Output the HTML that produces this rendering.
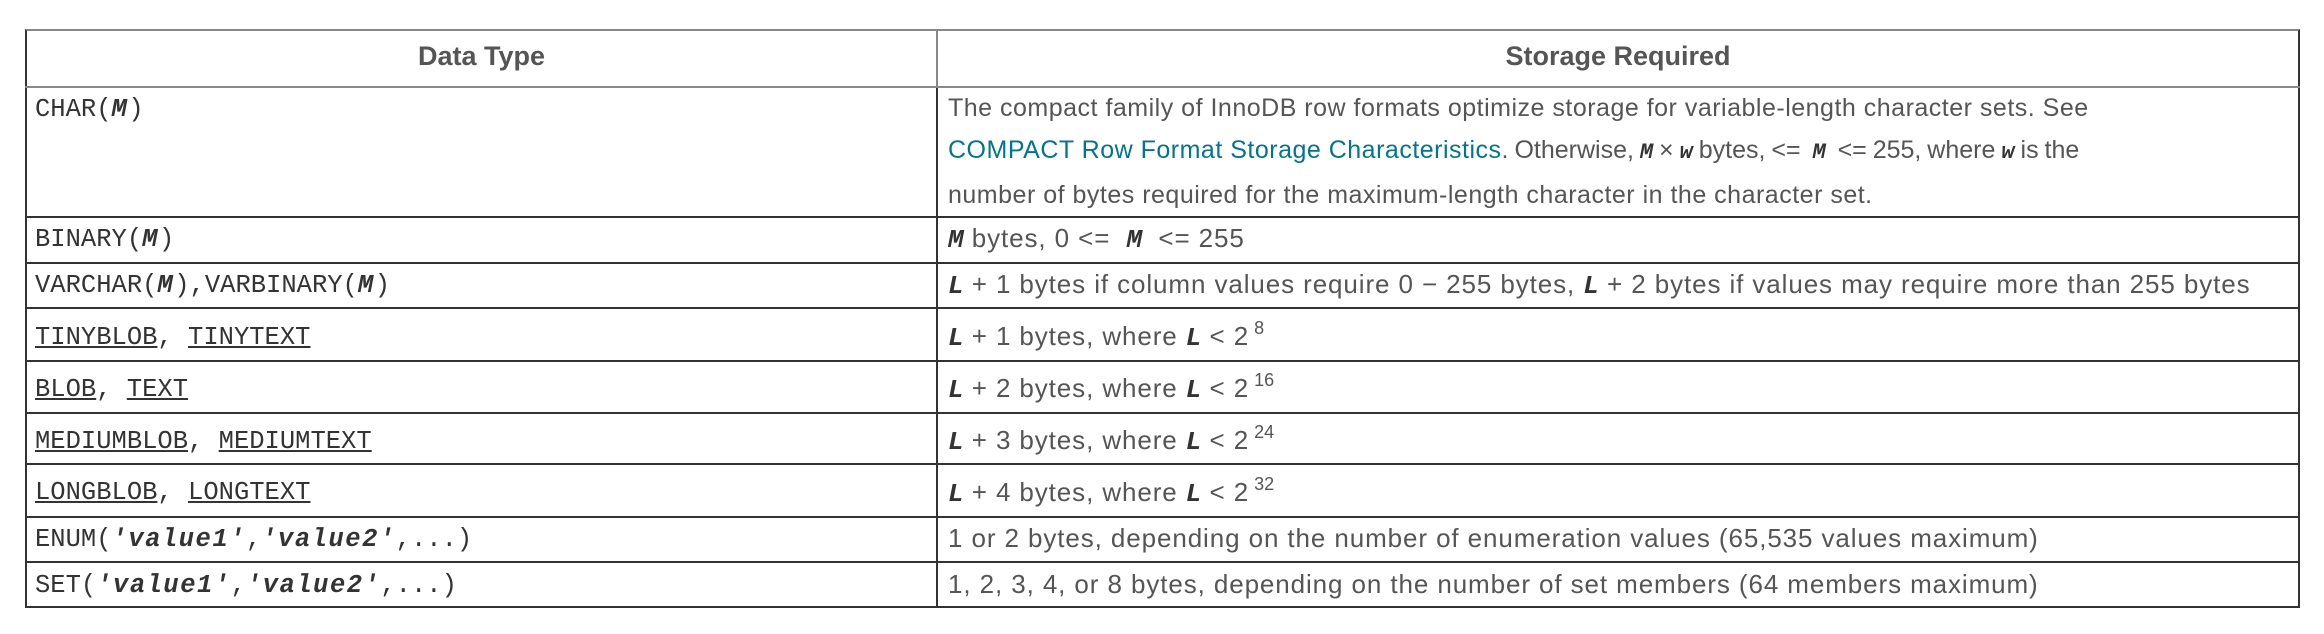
<!DOCTYPE html>
<html><head><meta charset="utf-8"><style>
html,body{margin:0;padding:0;background:#fff;width:2324px;height:634px;overflow:hidden}
.t{position:absolute;left:25px;top:29px;width:2275px;height:579px;border:2px solid #333;border-top-color:#888;box-sizing:border-box}
.h{position:absolute;background:#333;height:2px}
.v{position:absolute;background:#333;width:2px}
.c{position:absolute;font-family:"Liberation Sans",sans-serif;font-size:26px;letter-spacing:0.9px;color:#555;white-space:nowrap}
.m{font-family:"Liberation Mono",monospace;font-size:25.5px;letter-spacing:0;color:#333}
.b{font-weight:bold;font-style:italic;font-family:"Liberation Mono",monospace;color:#333;letter-spacing:0}
.m .b{letter-spacing:1.5px}
.hd{font-weight:bold;font-size:27px;letter-spacing:0;color:#555;text-align:center}
u{text-decoration:underline}
a{color:#00758f;text-decoration:none}
sup{font-size:18px;vertical-align:0;position:relative;top:-11px;margin-left:5px;letter-spacing:0}
.sm{font-size:25px}
.sm .b{font-size:22px}
.tight{letter-spacing:0;word-spacing:-1px}
</style></head><body>
<div class="t"></div>
<div class="h" style="left:25px;top:86px;width:2275px;background:#888"></div>
<div class="h" style="left:25px;top:216px;width:2275px"></div>
<div class="h" style="left:25px;top:262px;width:2275px"></div>
<div class="h" style="left:25px;top:307px;width:2275px"></div>
<div class="h" style="left:25px;top:360px;width:2275px"></div>
<div class="h" style="left:25px;top:412px;width:2275px"></div>
<div class="h" style="left:25px;top:463px;width:2275px"></div>
<div class="h" style="left:25px;top:516px;width:2275px"></div>
<div class="h" style="left:25px;top:561px;width:2275px"></div>
<div class="v" style="left:936px;top:29px;height:579px;background:#888"></div>
<div class="v" style="left:936px;top:88px;height:520px"></div>

<div class="c hd" style="left:27px;width:909px;top:41px">Data Type</div>
<div class="c hd" style="left:938px;width:1360px;top:41px">Storage Required</div>

<div class="c m" style="left:35px;top:95px">CHAR(<span class="b">M</span>)</div>
<div class="c sm" style="left:948px;top:87px;line-height:42px;letter-spacing:0.5px">The compact family of InnoDB row formats optimize storage for variable-length character sets. See<br><a>COMPACT Row Format Storage Characteristics</a><span class="tight">. Otherwise, <span class="b">M</span> × <span class="b">w</span> bytes, &lt;= &nbsp;<span class="b">M</span>&nbsp; &lt;= 255, where <span class="b">w</span> is the</span><br>number of bytes required for the maximum-length character in the character set.</div>

<div class="c m" style="left:35px;top:225px">BINARY(<span class="b">M</span>)</div>
<div class="c" style="left:948px;top:223px"><span class="b">M</span> bytes, 0 &lt;= &nbsp;<span class="b">M</span>&nbsp; &lt;= 255</div>

<div class="c m" style="left:35px;top:271px">VARCHAR(<span class="b">M</span>),VARBINARY(<span class="b">M</span>)</div>
<div class="c" style="left:948px;top:269px"><span class="b">L</span> + 1 bytes if column values require 0 − 255 bytes, <span class="b">L</span> + 2 bytes if values may require more than 255 bytes</div>

<div class="c m" style="left:35px;top:323px"><u>TINYBLOB</u>, <u>TINYTEXT</u></div>
<div class="c" style="left:948px;top:321px"><span class="b">L</span> + 1 bytes, where <span class="b">L</span> &lt; 2<sup>8</sup></div>

<div class="c m" style="left:35px;top:375px"><u>BLOB</u>, <u>TEXT</u></div>
<div class="c" style="left:948px;top:373px"><span class="b">L</span> + 2 bytes, where <span class="b">L</span> &lt; 2<sup>16</sup></div>

<div class="c m" style="left:35px;top:427px"><u>MEDIUMBLOB</u>, <u>MEDIUMTEXT</u></div>
<div class="c" style="left:948px;top:425px"><span class="b">L</span> + 3 bytes, where <span class="b">L</span> &lt; 2<sup>24</sup></div>

<div class="c m" style="left:35px;top:478px"><u>LONGBLOB</u>, <u>LONGTEXT</u></div>
<div class="c" style="left:948px;top:477px"><span class="b">L</span> + 4 bytes, where <span class="b">L</span> &lt; 2<sup>32</sup></div>

<div class="c m" style="left:35px;top:525px">ENUM(<span class="b">'value1'</span>,<span class="b">'value2'</span>,...)</div>
<div class="c" style="left:948px;top:523px">1 or 2 bytes, depending on the number of enumeration values (65,535 values maximum)</div>

<div class="c m" style="left:35px;top:571px">SET(<span class="b">'value1'</span>,<span class="b">'value2'</span>,...)</div>
<div class="c" style="left:948px;top:569px">1, 2, 3, 4, or 8 bytes, depending on the number of set members (64 members maximum)</div>
</body></html>
